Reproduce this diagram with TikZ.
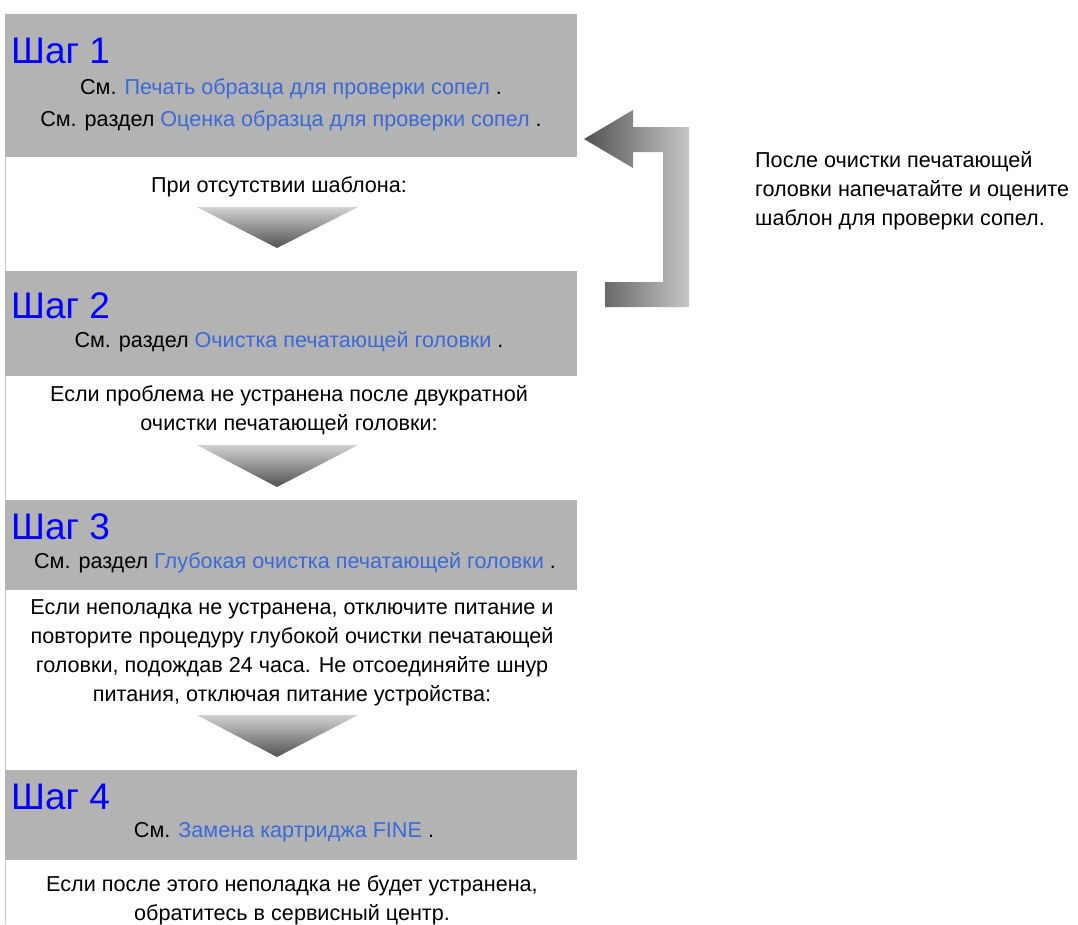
\documentclass[tikz,border=0pt]{standalone}
\usepackage{fontspec}
\setmainfont{Liberation Sans}
\definecolor{boxgray}{RGB}{179,179,179}
\definecolor{linegray}{RGB}{200,200,200}
\definecolor{linkblue}{RGB}{59,105,214}
\definecolor{headblue}{RGB}{0,0,255}
\newcommand{\lnk}[1]{{\color{linkblue}#1}}
\tikzset{
  stepbg/.style={fill=boxgray, draw=none},
  heading/.style={anchor=west, inner sep=0pt, text=headblue, font=\fontsize{37}{44}\selectfont},
  body/.style={inner sep=0pt, align=center, font=\fontsize{21.6}{29}\selectfont},
  downarrow/.style={top color=black!18, bottom color=black!68, draw=none},
  backarrow/.style={left color=black!68, right color=black!22, draw=none}
}
\begin{document}
\begin{tikzpicture}[x=1pt,y=-1pt]
\useasboundingbox (0,0) rectangle (1078,924);
\fill[white] (0,0) rectangle (1078,924);
% left border line
\draw[linegray, line width=1.2pt] (5.5,14) -- (5.5,924);
% step boxes
\fill[stepbg] (5,14) rectangle (577,157);
\fill[stepbg] (5,271) rectangle (577,376);
\fill[stepbg] (5,500) rectangle (577,590);
\fill[stepbg] (5,770) rectangle (577,860);

% Step 1
\node[heading] (h1) at (11,51) {Шаг 1};
\node[body] (s1a) at (291,89) {См. \lnk{Печать образца для проверки сопел} .};
\node[body] (s1b) at (291,121) {См. раздел \lnk{Оценка образца для проверки сопел} .};
\node[body] (c1) at (279,187) {При отсутствии шаблона:};
\shade[downarrow] (197,207) -- (358,207) -- (277,248) -- cycle;

% Step 2
\node[heading] (h2) at (11,306) {Шаг 2};
\node[body] (s2) at (289,342) {См. раздел \lnk{Очистка печатающей головки} .};
\node[body] (c2) at (289,410.5) {Если проблема не устранена после двукратной\\очистки печатающей головки:};
\shade[downarrow] (197,445) -- (358,445) -- (277,487) -- cycle;

% Step 3
\node[heading] (h3) at (11,527) {Шаг 3};
\node[body] (s3) at (295,563) {См. раздел \lnk{Глубокая очистка печатающей головки} .};
\node[body] (c3) at (292,652.5) {Если неполадка не устранена, отключите питание и\\повторите процедуру глубокой очистки печатающей\\головки, подождав 24 часа. Не отсоединяйте шнур\\питания, отключая питание устройства:};
\shade[downarrow] (197,715) -- (358,715) -- (277,757) -- cycle;

% Step 4
\node[heading] (h4) at (11,797) {Шаг 4};
\node[body] (s4) at (284,832) {См. \lnk{Замена картриджа FINE} .};
\node[body] (c4) at (292,900) {Если после этого неполадка не будет устранена,\\обратитесь в сервисный центр.};

% return arrow
\shade[backarrow] (584,139) -- (633,110) -- (633,127) -- (689,127) -- (689,307)
  -- (605,307) -- (605,282) -- (663,282) -- (663,152) -- (633,152) -- (633,168) -- cycle;
\node[body, align=left, anchor=west] (note) at (755,191) {После очистки печатающей\\головки напечатайте и оцените\\шаблон для проверки сопел.};
\end{tikzpicture}
\end{document}
